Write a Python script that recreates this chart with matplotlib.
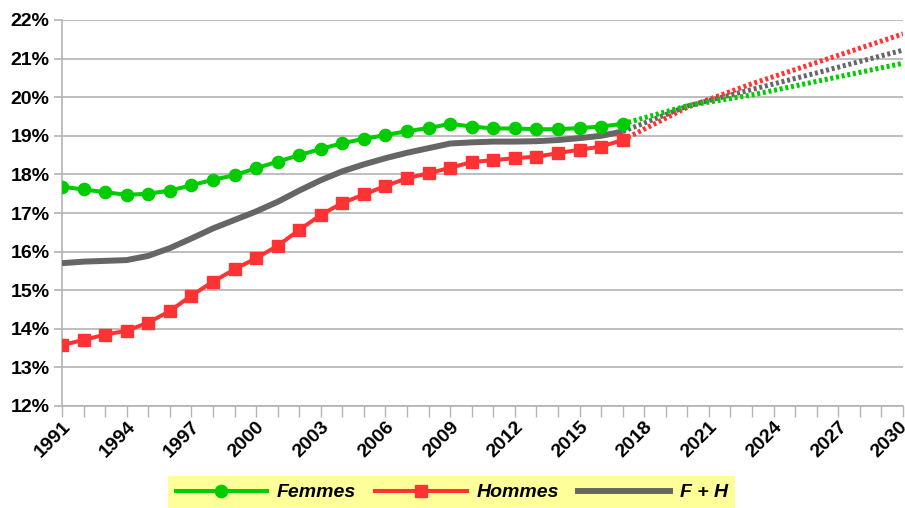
import matplotlib
matplotlib.use("Agg")
import matplotlib.pyplot as plt
from matplotlib.ticker import FixedLocator, FuncFormatter
from matplotlib.lines import Line2D
from matplotlib.transforms import ScaledTranslation

years = list(range(1991, 2018))
femmes = [17.68, 17.61, 17.54, 17.47, 17.50, 17.58, 17.72, 17.86, 17.98, 18.16,
          18.33, 18.50, 18.66, 18.81, 18.92, 19.02, 19.12, 19.20, 19.31, 19.24,
          19.19, 19.19, 19.17, 19.17, 19.20, 19.24, 19.31]
hommes = [13.58, 13.71, 13.85, 13.95, 14.16, 14.46, 14.86, 15.22, 15.54, 15.83,
          16.15, 16.56, 16.95, 17.26, 17.48, 17.70, 17.90, 18.03, 18.17, 18.32,
          18.37, 18.42, 18.46, 18.55, 18.64, 18.72, 18.89]
total = [15.70, 15.74, 15.76, 15.78, 15.89, 16.09, 16.34, 16.60, 16.82, 17.04,
         17.29, 17.58, 17.85, 18.08, 18.26, 18.42, 18.56, 18.68, 18.80, 18.83,
         18.85, 18.85, 18.86, 18.89, 18.94, 19.00, 19.11]

proj_years = [2017, 2020, 2023, 2026, 2030]
femmes_proj = [19.31, 19.78, 20.06, 20.41, 20.88]
hommes_proj = [18.89, 19.74, 20.35, 20.90, 21.64]
total_proj = [19.11, 19.77, 20.20, 20.63, 21.22]

labels = ["Femmes", "Hommes", "F + H"]
green, red, gray = "#00cc00", "#ff3333", "#666666"

plt.rcParams['font.family'] = ['Liberation Sans', 'DejaVu Sans']

fig = plt.figure(figsize=(9.05, 5.08), dpi=100)
ax = fig.add_axes([62/905, 1-406/508, (903-62)/905, (406-20)/508])

dots = (0, (0.6, 0.55))
ax.plot(proj_years, hommes_proj, color=red, lw=3.6, linestyle=dots, zorder=3,
        dash_capstyle='butt')
ax.plot(proj_years, total_proj, color=gray, lw=3.6, linestyle=dots, zorder=3,
        dash_capstyle='butt')
ax.plot(proj_years, femmes_proj, color=green, lw=3.6, linestyle=dots, zorder=3,
        dash_capstyle='butt')

ax.plot(years, total, color=gray, lw=4.3, zorder=4, solid_capstyle='butt')
ax.plot(years, hommes, color=red, lw=2.9, marker='s', markersize=8, zorder=5)
ax.plot(years, femmes, color=green, lw=2.9, marker='o', markersize=8.8, zorder=6)

ax.set_xlim(1991, 2030)
ax.set_ylim(12, 22)
ax.yaxis.set_major_locator(FixedLocator(range(12, 23)))
ax.yaxis.set_major_formatter(FuncFormatter(lambda v, p: f"{int(round(v))}%"))
ax.xaxis.set_major_locator(FixedLocator(range(1991, 2031, 3)))
ax.xaxis.set_minor_locator(FixedLocator(range(1991, 2031)))

ax.grid(axis='y', color='#b3b3b3', lw=1.2, zorder=0)
for s in ['top', 'right']:
    ax.spines[s].set_visible(False)
for s in ['left', 'bottom']:
    ax.spines[s].set_color('#b3b3b3')
    ax.spines[s].set_linewidth(1.2)

ax.tick_params(axis='y', which='major', length=6, width=1.2, color='#b3b3b3',
               labelsize=14, pad=3)
ax.tick_params(axis='x', which='both', length=8, width=1.0, color='#b3b3b3',
               labelsize=14, pad=1)
for t in ax.get_yticklabels():
    t.set_fontweight('bold')
xlabels = ax.get_xticklabels()
for t in xlabels:
    t.set_fontweight('bold')
    t.set_rotation(45)
    t.set_ha('right')
    t.set_va('top')
    t.set_rotation_mode('anchor')
xlabels[-1].set_transform(xlabels[-1].get_transform() +
                          ScaledTranslation(-4/100, 0, fig.dpi_scale_trans))

handles = [
    Line2D([], [], color=green, lw=2.9, marker='o', markersize=8.8),
    Line2D([], [], color=red, lw=2.9, marker='s', markersize=8),
    Line2D([], [], color=gray, lw=4.3),
]
leg = fig.legend(handles, labels, loc='center', bbox_to_anchor=(0.499, 0.0305),
                 ncol=3, frameon=True, fancybox=False, handlelength=4.7,
                 handletextpad=0.5, columnspacing=1.0, borderpad=0.38,
                 prop={'size': 14, 'weight': 'bold', 'style': 'italic'})
leg.get_frame().set_facecolor('#ffff99')
leg.get_frame().set_edgecolor('none')
leg.get_frame().set_alpha(1)

fig.savefig("out.png", dpi=100)
